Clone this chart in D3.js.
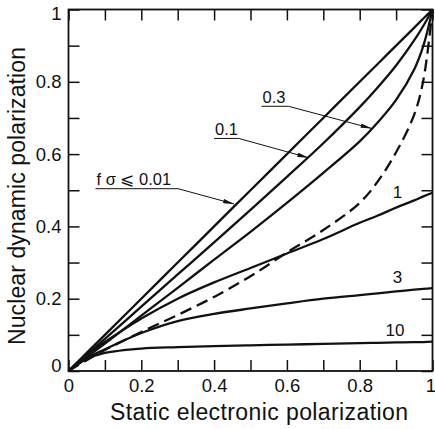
<!DOCTYPE html>
<html>
<head>
<meta charset="utf-8">
<script src="https://cdn.jsdelivr.net/npm/d3@7.9.0/dist/d3.min.js"></script>
<style>
  body { margin: 0; background: #fff; }
  svg { display: block; }
  text { font-family: "Liberation Sans", Arial, sans-serif; fill: #111; }
</style>
</head>
<body>
<svg id="chart" width="435" height="429"></svg>
<script>
// shared x grid (static electronic polarization)
const xGrid = [0, 0.05, 0.1, 0.2, 0.3, 0.4, 0.5, 0.6, 0.7, 0.8, 0.85, 0.9, 0.95, 0.975, 1];

// nuclear dynamic polarization
const fs001 = [0, 0.05, 0.1, 0.2, 0.3, 0.4, 0.5, 0.6, 0.7, 0.8, 0.85, 0.9, 0.95, 0.975, 1];
const fs01  = [0, 0.0445, 0.089, 0.178, 0.267, 0.356, 0.446, 0.537, 0.63, 0.73, 0.785, 0.845, 0.915, 0.955, 1];
const fs03  = [0, 0.038, 0.076, 0.153, 0.23, 0.308, 0.385, 0.465, 0.548, 0.635, 0.688, 0.75, 0.835, 0.9, 1];
const fs1   = [0, 0.045, 0.08, 0.145, 0.2, 0.245, 0.285, 0.325, 0.365, 0.41, 0.43, 0.452, 0.472, 0.483, 0.493];
const fs3   = [0, 0.035, 0.06, 0.105, 0.138, 0.158, 0.173, 0.187, 0.2, 0.21, 0.215, 0.22, 0.225, 0.227, 0.229];
const fs10  = [0, 0.033, 0.05, 0.062, 0.066, 0.069, 0.071, 0.073, 0.075, 0.077, 0.078, 0.079, 0.08, 0.08, 0.081];
const dashed = [0, 0.03, 0.058, 0.108, 0.155, 0.205, 0.262, 0.328, 0.39, 0.465, 0.525, 0.605, 0.71, 0.805, 1];

const tickValues = d3.range(0, 11).map(i => i / 10);
const tickLabels = ['0', '', '0.2', '', '0.4', '', '0.6', '', '0.8', '', '1'];

// annotation labels: [text, textX, textY, underlineEndX, tipX, tipY]
const arrowLabels = [
  ['f σ ⩽ 0.01', 0.077, 0.514, 0.301, 0.455, 0.462],
  ['0.1', 0.4025, 0.653, 0.468, 0.659, 0.59],
  ['0.3', 0.533, 0.742, 0.604, 0.833, 0.671]
];
// plain labels: [text, x, y]
const endLabels = [
  ['1', 0.9035, 0.478],
  ['3', 0.9035, 0.243],
  ['10', 0.897, 0.097]
];

const svg = d3.select('#chart');
const margin = { left: 68.5, right: 2.5, top: 9.5, bottom: 58 };
const W = 435, H = 429;

const x = d3.scaleLinear().domain([0, 1]).range([margin.left, W - margin.right]);
const y = d3.scaleLinear().domain([0, 1]).range([H - margin.bottom, margin.top]);

// defs: arrowhead
svg.append('defs').append('marker')
  .attr('id', 'arrow')
  .attr('viewBox', '0 0 10 4')
  .attr('refX', 10).attr('refY', 2)
  .attr('markerWidth', 12).attr('markerHeight', 4.4)
  .attr('markerUnits', 'userSpaceOnUse')
  .attr('orient', 'auto')
  .append('path').attr('d', 'M0,0 L10,2 L0,4 Z').attr('fill', '#111');

// axes with inward ticks
const fmt = (d, i) => tickLabels[i];

const bottom = svg.append('g')
  .attr('transform', `translate(0,${y(0)})`)
  .call(d3.axisBottom(x).tickValues(tickValues).tickSize(-11).tickPadding(8).tickFormat(fmt));
const left = svg.append('g')
  .attr('transform', `translate(${x(0)},0)`)
  .call(d3.axisLeft(y).tickValues(tickValues).tickSize(-11).tickPadding(7).tickFormat(fmt));
svg.append('g')
  .attr('transform', `translate(0,${y(1)})`)
  .call(d3.axisTop(x).tickValues(tickValues).tickSize(-11).tickFormat(''));
svg.append('g')
  .attr('transform', `translate(${x(1)},0)`)
  .call(d3.axisRight(y).tickValues(tickValues).tickSize(-11).tickFormat(''));

svg.selectAll('.domain').remove();
svg.selectAll('.tick line').attr('stroke', '#111').attr('stroke-width', 1.5);
svg.selectAll('.tick text').attr('font-size', 18.5).attr('fill', '#111')
  .attr('font-family', '"Liberation Sans", Arial, sans-serif');

// nudge end labels inward like the original
left.selectAll('.tick text').filter(d => d === 0).attr('dy', '0.0em');
left.selectAll('.tick text').filter(d => d === 1).attr('dy', '0.55em');
bottom.selectAll('.tick text').filter(d => d === 1).attr('dx', '-0.12em');

// frame
svg.append('rect')
  .attr('x', x(0)).attr('y', y(1))
  .attr('width', x(1) - x(0)).attr('height', y(0) - y(1))
  .attr('fill', 'none').attr('stroke', '#111').attr('stroke-width', 1.8);

// curves
const line = d3.line()
  .x(d => x(d[0]))
  .y(d => y(d[1]))
  .curve(d3.curveCatmullRom.alpha(0.5));

const series = [fs001, fs01, fs03, fs1, fs3, fs10];
series.forEach(vals => {
  svg.append('path')
    .datum(xGrid.map((v, i) => [v, vals[i]]))
    .attr('d', line)
    .attr('fill', 'none')
    .attr('stroke', '#111')
    .attr('stroke-width', 2.3);
});

svg.append('path')
  .datum(xGrid.map((v, i) => [v, dashed[i]]))
  .attr('d', line)
  .attr('fill', 'none')
  .attr('stroke', '#111')
  .attr('stroke-width', 2.3)
  .attr('stroke-dasharray', '12,6');

// arrow annotations
arrowLabels.forEach(([t, tx, ty, ux, px, py]) => {
  svg.append('text')
    .attr('x', x(tx)).attr('y', y(ty))
    .attr('font-size', 16.5)
    .text(t);
  const uy = y(ty) + 3.5;
  svg.append('path')
    .attr('d', `M${x(tx) - 1},${uy} L${x(ux)},${uy} L${x(px)},${y(py)}`)
    .attr('fill', 'none')
    .attr('stroke', '#111')
    .attr('stroke-width', 1)
    .attr('marker-end', 'url(#arrow)');
});

endLabels.forEach(([t, lx, ly]) => {
  svg.append('text')
    .attr('x', x(lx)).attr('y', y(ly))
    .attr('text-anchor', 'middle')
    .attr('font-size', 17)
    .text(t);
});

// axis titles
svg.append('text')
  .attr('x', 259).attr('y', 420)
  .attr('text-anchor', 'middle')
  .attr('font-size', 23)
  .attr('textLength', 298)
  .text('Static electronic polarization');

svg.append('text')
  .attr('transform', 'translate(25,196) rotate(-90)')
  .attr('text-anchor', 'middle')
  .attr('font-size', 23)
  .attr('textLength', 298)
  .text('Nuclear dynamic polarization');
</script>
</body>
</html>
